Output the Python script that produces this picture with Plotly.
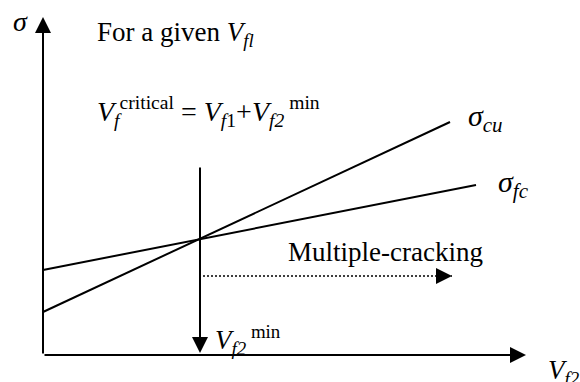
import plotly.graph_objects as go

W, H = 580, 382

# Schematic frame: origin of the Vf2–sigma axes sits near the lower-left corner
x_range = [-0.86, 10.74]
y_range = [-0.54, 7.10]

# Stress lines (Vf2, sigma) end points
cu_x = [0.0, 8.14]
cu_y = [0.86, 4.66]
fc_x = [0.0, 8.66]
fc_y = [1.70, 3.40]

# Critical fibre content where the two lines cross
vf2_min = 3.14
vf2_arrow_top = 3.78

# Multiple-cracking region (dotted arrow)
mc_x = [3.20, 8.18]
mc_y = [1.58, 1.58]

# Axis arrow tips
x_axis_end = 9.66
y_axis_end = 6.76

FONT = "Liberation Serif"

fig = go.Figure()
for xs, ys in [(cu_x, cu_y), (fc_x, fc_y)]:
    fig.add_trace(go.Scatter(x=xs, y=ys, mode="lines",
                             line=dict(color="black", width=2),
                             hoverinfo="skip", showlegend=False))

fig.add_trace(go.Scatter(x=mc_x, y=mc_y, mode="lines",
                         line=dict(color="black", width=1.6, dash="2px,2px"),
                         hoverinfo="skip", showlegend=False))


def arrow(xt, yt, xa, ya):
    return dict(x=xt, y=yt, ax=xa, ay=ya, xref="x", yref="y",
                axref="x", ayref="y", text="", showarrow=True,
                arrowhead=2, arrowsize=1.6, arrowwidth=2,
                arrowcolor="black", standoff=0)


arrows = [
    arrow(0, y_axis_end, 0, 0),
    arrow(x_axis_end, 0, 0, 0),
    arrow(vf2_min, 0.04, vf2_min, vf2_arrow_top),
    arrow(mc_x[1], mc_y[1], mc_x[1] - 0.3, mc_y[1]),
]


def label(text, px, py, size=27, anchor="left"):
    return dict(x=px / W, y=1 - py / H, xref="paper", yref="paper",
                text=text, showarrow=False, xanchor=anchor, yanchor="middle",
                font=dict(family=FONT, size=size, color="black"))


labels = [
    label("<i>σ</i>", 11, 21, size=28),
    label("For a given <i>V<sub>fl</sub></i>", 95, 34, size=27),
    label("<i>V<sub>f</sub></i><sup>critical</sup> = <i>V<sub>f</sub></i><sub>1</sub>+<i>V<sub>f2</sub></i><sup> min</sup>",
          95, 112, size=28),
    label("<i>σ<sub>cu</sub></i>", 466, 118, size=30),
    label("<i>σ<sub>fc</sub></i>", 496, 184, size=30),
    label("Multiple-cracking", 286, 252, size=27),
    label("<i>V<sub>f2</sub></i><sup> min</sup>", 213, 340, size=27),
    label("<i>V<sub>f2</sub></i>", 546, 372, size=27),
]

fig.update_layout(
    width=W, height=H,
    margin=dict(l=0, r=0, t=0, b=0),
    paper_bgcolor="white", plot_bgcolor="white",
    xaxis=dict(range=x_range, visible=False, fixedrange=True),
    yaxis=dict(range=y_range, visible=False, fixedrange=True),
    annotations=arrows + labels,
    showlegend=False,
)

fig.write_html("out.html")
